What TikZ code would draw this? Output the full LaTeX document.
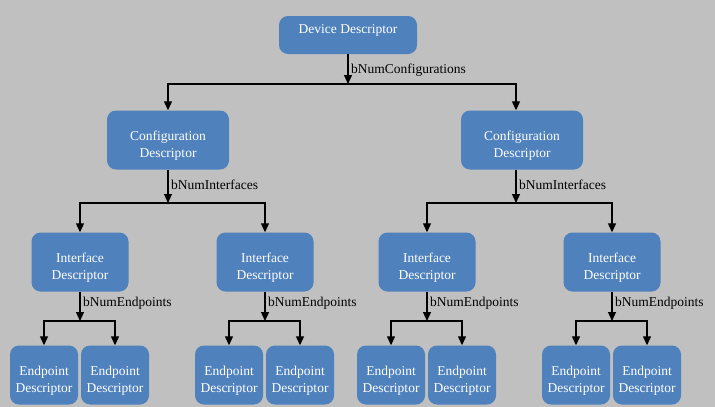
\documentclass[tikz,border=0pt]{standalone}
\usepackage{fontspec}
\setmainfont{Liberation Serif}
\usetikzlibrary{arrows.meta,calc}
\definecolor{boxblue}{HTML}{4F81BD}
\definecolor{bggray}{HTML}{C0C0C0}
\tikzset{
  desc/.style={fill=boxblue, rounded corners=9pt, text=white, align=center,
    font=\fontsize{13.5}{16.5}\selectfont, inner sep=0pt,
    text height=46.5pt, text depth=12.5pt},
  lbl/.style={font=\fontsize{13.5}{16.5}\selectfont, inner sep=0pt, anchor=base west},
  link/.style={line width=1.2pt, -{Triangle[width=8pt,length=9pt]}},
}

\begin{document}
\begin{tikzpicture}[x=1pt,y=-1pt]
\fill[bggray] (0,0) rectangle (715,407);
\useasboundingbox (0,0) rectangle (715,407);

% device level
\node[desc, minimum width=138pt, text height=17pt, text depth=21pt] (dev) at (348,35) {Device Descriptor};
\coordinate (jdev) at (348,84);
\node[lbl] (ldev) at (351,73) {bNumConfigurations};

% configuration level
\node[desc, minimum width=122pt] (cfgL) at (168,140) {Configuration\\Descriptor};
\node[desc, minimum width=122pt] (cfgR) at (522,140) {Configuration\\Descriptor};
\coordinate (jcfgL) at (168,203);
\coordinate (jcfgR) at (516,203);
\node[lbl] (lcfgL) at (171,189) {bNumInterfaces};
\node[lbl] (lcfgR) at (519,189) {bNumInterfaces};

\draw[link] (dev.south) -- (jdev);
\draw[link] (jdev) -| (cfgL.north);
\draw[link] (jdev) -| (cfgR.north -| jcfgR);

% interface and endpoint levels
\foreach \i/\x/\p in {1/80/cfgL, 2/265/cfgL, 3/427/cfgR, 4/612/cfgR} {
  \node[desc, minimum width=97pt] (if\i) at (\x,262) {Interface\\Descriptor};
  \coordinate (jif\i) at (\x,321);
  \node[lbl] (lif\i) at ($(\x,306)+(3,0)$) {bNumEndpoints};
  \node[desc, minimum width=68pt] (epA\i) at ($(\x,375)+(-36,0)$) {Endpoint\\Descriptor};
  \node[desc, minimum width=68pt] (epB\i) at ($(\x,375)+(35,0)$) {Endpoint\\Descriptor};
  \draw[link] (j\p) -| (if\i.north);
  \draw[link] (if\i.south) -- (jif\i);
  \draw[link] (jif\i) -| (epA\i.north);
  \draw[link] (jif\i) -| (epB\i.north);
}
\draw[link] (cfgL.south) -- (jcfgL);
\draw[link] (cfgR.south -| jcfgR) -- (jcfgR);
\end{tikzpicture}
\end{document}
